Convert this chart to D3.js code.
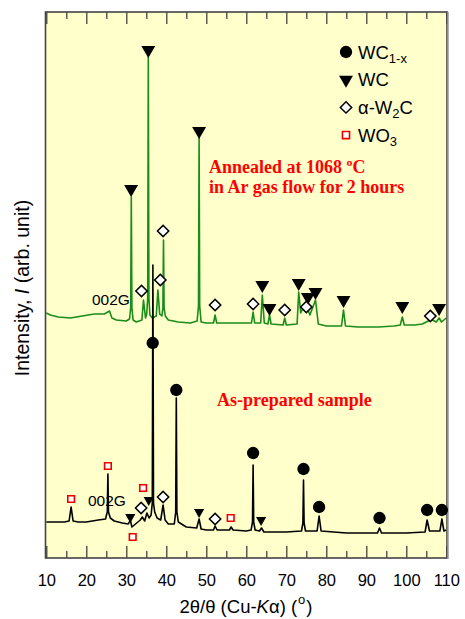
<!DOCTYPE html>
<html><head><meta charset="utf-8">
<script src="https://cdn.jsdelivr.net/npm/d3@7"></script>
<style>body{margin:0;background:#fff}</style>
</head><body>
<svg id="c" width="465" height="619"></svg>
<script>
// ---------- DATA ----------
const xTickValues = [10,20,30,40,50,60,70,80,90,100,110];
const xMinorTicks = [15,25,35,45,55,65,75,85,95,105];

// Annealed pattern (2theta, intensity arb.)
const annealed = [[10,15],[11,13],[13,11],[16,10],[19,12],[22,14],[24.5,14],[25.8,17],[26.4,10],[27.5,8],[30,7],[30.8,9],[31.1,20],[31.25,131],[31.4,20],[31.7,8],[32.5,6],[33.9,8],[34.3,28],[34.8,10],[35.1,14],[35.35,30],[35.5,271],[35.65,30],[35.9,13],[36.5,10],[37.5,12],[37.9,38],[38.35,14],[38.9,12],[39.15,20],[39.3,88],[39.45,20],[39.75,12],[40.5,8],[43,6],[46,5],[47.7,7],[48.05,22],[48.2,190],[48.35,22],[48.7,6],[50,5],[51.8,5],[52.2,13],[52.6,5],[55,5],[61.3,5],[61.7,16],[62.1,5],[63.6,5],[64.0,33],[64.5,5],[65.4,4],[65.8,13],[66.2,4],[69.2,3],[69.6,10],[70.0,3],[72.7,4],[73.1,36],[73.6,15],[74.8,25],[75.9,13],[77.3,28],[78.0,4],[80,2],[83.8,2],[84.3,18],[84.8,2],[88,1],[93,1],[97,2],[98.5,3],[99.0,11],[99.5,3],[102,3],[104,4],[105.5,7],[106.5,8],[107.5,6],[108.2,10],[108.8,6],[110,10]];

// As-prepared pattern
const asPrepared = [[10,16],[12,16],[14.5,16],[15.7,17],[16.2,31],[16.7,17],[18,16],[20,16],[23,18],[24.8,19],[25.25,26],[25.4,64],[25.55,26],[26.0,20],[27,17],[29,15],[30.5,14],[31.0,18],[31.4,11],[32.3,14],[33.5,18],[34.0,21],[34.6,17],[35.15,25],[35.7,20],[36.2,23],[36.5,35],[36.65,273],[36.8,35],[37.1,26],[37.7,20],[38.6,18],[39.2,33],[39.7,18],[40.5,14],[42.0,14],[42.35,26],[42.5,140],[42.65,26],[43.0,16],[45,11],[47.6,10],[48.2,19],[48.7,9],[50,8],[51.8,8],[52.2,12],[52.7,8],[55.8,8],[56.2,11],[56.7,8],[60,7],[61.2,8],[61.55,16],[61.7,73],[61.85,16],[62.2,8],[63.3,7],[63.8,10],[64.4,6],[70,6],[73.8,7],[74.15,15],[74.3,58],[74.45,15],[74.8,7],[77.7,7],[78.2,22],[78.7,7],[85,5],[92.8,5],[93.3,10],[93.8,5],[100,5],[104.7,6],[105.2,18],[105.8,7],[108.4,7],[108.9,19],[109.4,7],[110,8]];

const patternOffsets = [230, 20]; // annealed, as-prepared

// Phase markers (2theta, intensity)
const annealedWC  = [[31.2,139],[35.5,278],[48.2,197],[64.0,43],[65.8,20],[73.1,45],[75.4,31],[77.3,36],[84.3,28],[99.0,22],[108.2,20]];
const annealedW2C = [[33.8,37],[38.5,48],[39.2,97],[52.2,23],[61.7,24],[69.6,18],[75.0,21],[106.0,12]];
const asWC1x = [[36.6,195],[42.5,148],[61.7,85],[74.3,69],[78.2,31],[93.3,20],[105.2,28],[108.9,28]];
const asWC   = [[31.0,21],[35.6,38],[48.2,26],[63.7,18]];
const asW2C  = [[33.7,30],[39.2,41],[52.2,19]];
const asWO3  = [[16.2,39],[25.4,72],[31.6,1],[34.2,50],[56.1,20]];

// ---------- DRAW ----------
const svg = d3.select('#c');
const L = 45.5, R = 447, T = 12, B = 558;
const x = d3.scaleLinear().domain([10,110]).range([46.3,446.3]);
const y = d3.scaleLinear().domain([0,546]).range([B,T]);

svg.append('rect').attr('x',L).attr('y',T).attr('width',R-L).attr('height',B-T)
  .attr('fill','#ffffcc');

const line = d3.line().x(d=>x(d[0]));
const gCol = '#1a8c1a';
svg.append('path').datum(annealed)
  .attr('d', line.y(d=>y(d[1]+patternOffsets[0])))
  .attr('fill','none').attr('stroke',gCol).attr('stroke-width',1.6).attr('stroke-linejoin','round');
svg.append('path').datum(asPrepared)
  .attr('d', line.y(d=>y(d[1]+patternOffsets[1])))
  .attr('fill','none').attr('stroke','#000').attr('stroke-width',1.6).attr('stroke-linejoin','round');

// axes
const axB = d3.axisBottom(x).tickValues(xTickValues).tickSize(-12).tickPadding(16).tickFormat(d3.format('d'));
const axBm = d3.axisBottom(x).tickValues(xMinorTicks).tickSize(-7).tickFormat('');
const axT = d3.axisTop(x).tickValues(xTickValues).tickSize(-12).tickFormat('');
const axTm = d3.axisTop(x).tickValues(xMinorTicks).tickSize(-7).tickFormat('');
function styleAx(g){ g.select('.domain').remove(); g.selectAll('line').attr('stroke','#333').attr('stroke-width',1.2);
  g.selectAll('text').attr('font-family','Liberation Sans, Arial, sans-serif').attr('font-size',16.5).attr('fill','#000'); }
svg.append('g').attr('transform',`translate(0,${B})`).call(axB).call(styleAx);
svg.append('g').attr('transform',`translate(0,${B})`).call(axBm).call(styleAx);
svg.append('g').attr('transform',`translate(0,${T})`).call(axT).call(styleAx);
svg.append('g').attr('transform',`translate(0,${T})`).call(axTm).call(styleAx);

// frame
svg.append('rect').attr('x',L).attr('y',T).attr('width',R-L).attr('height',B-T)
  .attr('fill','none').attr('stroke','#444').attr('stroke-width',1.6);
svg.append('line').attr('x1',R+1).attr('x2',R+1).attr('y1',T).attr('y2',B+1)
  .attr('stroke','#999').attr('stroke-width',1.5);

// markers
function markers(data, off, type, size, opts){
  svg.append('g').selectAll('path').data(data).join('path')
    .attr('transform', d=>`translate(${x(d[0])},${y(d[1]+off)}) rotate(${opts.rot||0})`)
    .attr('d', d3.symbol().type(type).size(size))
    .attr('fill', opts.fill).attr('stroke', opts.stroke||'none').attr('stroke-width', opts.sw||0);
}
const tri = {fill:'#000', rot:180};
const dia = {fill:'#fff', stroke:'#000', sw:1.5, rot:45};
const sq  = {fill:'#fff', stroke:'#e00', sw:1.6};
const circ= {fill:'#000'};
markers(annealedWC, patternOffsets[0], d3.symbolTriangle, 84, tri);
markers(annealedW2C, patternOffsets[0], d3.symbolSquare, 64, dia);
markers(asWC1x, patternOffsets[1], d3.symbolCircle, 120, circ);
markers(asWC, patternOffsets[1], d3.symbolTriangle, 45, tri);
markers(asW2C, patternOffsets[1], d3.symbolSquare, 64, dia);
markers(asWO3, patternOffsets[1], d3.symbolSquare, 44, sq);

// legend
const lg = svg.append('g').attr('font-family','Liberation Sans, Arial, sans-serif').attr('font-size',18.5).attr('fill','#000');
const legendRows = [
  {type:d3.symbolCircle, size:120, o:circ, parts:[['WC',0],['1-x',1]]},
  {type:d3.symbolTriangle, size:84, o:tri, parts:[['WC',0]]},
  {type:d3.symbolSquare, size:64, o:dia, parts:[['α-W',0],['2',1],['C',0]]},
  {type:d3.symbolSquare, size:50, o:sq, parts:[['WO',0],['3',1]]}
];
legendRows.forEach((r,i)=>{
  const yy = 52 + i*27.7;
  lg.append('path').attr('transform',`translate(346,${yy}) rotate(${r.o.rot||0})`)
    .attr('d', d3.symbol().type(r.type).size(r.size))
    .attr('fill',r.o.fill).attr('stroke',r.o.stroke||'none').attr('stroke-width',r.o.sw||0);
  const t = lg.append('text').attr('x',358).attr('y',yy+6.5);
  r.parts.forEach((p,j)=>{
    const ts = t.append('tspan').text(p[0]);
    if(p[1]) ts.attr('font-size',13).attr('dy',4.5);
    else if(j>0 && r.parts[j-1][1]) ts.attr('dy',-4.5);
  });
});

// annotations
const sans = 'Liberation Sans, Arial, sans-serif';
const serif = 'Liberation Serif, Times New Roman, serif';
svg.append('text').attr('x',92).attr('y',305).attr('font-family',sans).attr('font-size',15.5).text('002G');
svg.append('text').attr('x',88).attr('y',506).attr('font-family',sans).attr('font-size',15.5).text('002G');
const red = svg.append('g').attr('font-family',serif).attr('font-weight','bold').attr('font-size',18).attr('fill','#ff0000');
red.append('text').attr('x',209).attr('y',173).text('Annealed at 1068 ºC');
red.append('text').attr('x',209).attr('y',193).text('in Ar gas flow for 2 hours');
red.append('text').attr('x',217).attr('y',406).text('As-prepared sample');

// axis titles
const xt = svg.append('text').attr('x',246).attr('y',613).attr('text-anchor','middle')
  .attr('font-family',sans).attr('font-size',18.5);
xt.append('tspan').text('2θ/θ (Cu-');
xt.append('tspan').attr('font-style','italic').text('K');
xt.append('tspan').text('α) (');
xt.append('tspan').attr('font-size',13).attr('dy',-9).attr('dx',1).text('o');
xt.append('tspan').attr('dy',9).attr('dx',1).text(')');

const yt = svg.append('text').attr('transform','translate(29,288) rotate(-90)').attr('text-anchor','middle')
  .attr('font-family',sans).attr('font-size',19.5);
yt.append('tspan').text('Intensity, ');
yt.append('tspan').attr('font-style','italic').text('I');
yt.append('tspan').text(' (arb. unit)');
</script>
</body></html>
